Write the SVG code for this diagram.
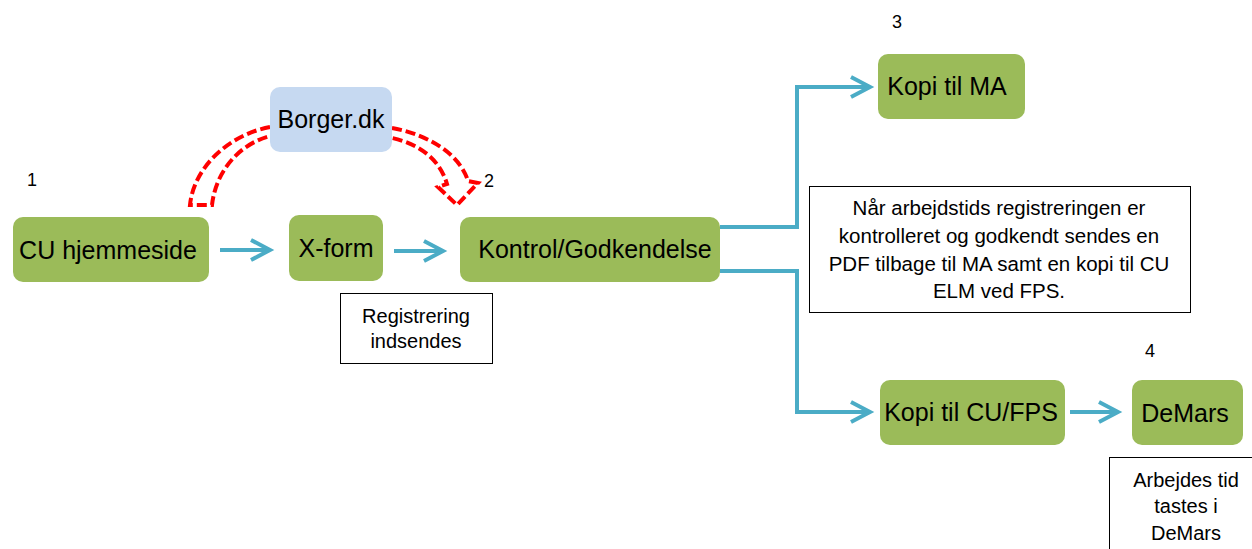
<svg xmlns="http://www.w3.org/2000/svg" width="1252" height="549" viewBox="0 0 1252 549">
<style>
text{font-family:"Liberation Sans",Arial,sans-serif;fill:#000}
.node{fill:#9bbb59}
.lbl{font-size:25px;text-anchor:middle}
.num{font-size:18px}
.note{fill:#fff;stroke:#000;stroke-width:1}
.nt{font-size:20.5px;text-anchor:middle}
.nt2{font-size:20px;text-anchor:middle}
.flow{fill:none;stroke:#4bacc6;stroke-width:4;marker-end:url(#chev)}
.dash{fill:none;stroke:#ff0000;stroke-width:4;stroke-dasharray:10 4}
</style>
<defs>
<marker id="chev" markerUnits="userSpaceOnUse" markerWidth="30" markerHeight="30" refX="0" refY="0" orient="auto" overflow="visible">
<path d="M-19,-10 L0,0 L-19,10" fill="none" stroke="#4bacc6" stroke-width="4"/>
</marker>
</defs>
<rect width="1252" height="549" fill="#fff"/>
<g id="connectors">
<path class="dash" d="M270 127 C232 134 194 165 190 205 L212 205 C216 170 240 144 270 136"/>
<path class="dash" d="M392 128 C430 135 460 155 468 181 L478 183 L457 205 L438 187 L447 184 C440 160 420 144 392 138"/>
<path class="flow" d="M220 250 L270 250"/>
<path class="flow" d="M394 251 L443 251"/>
<path class="flow" d="M720 227 L797 227 L797 87 L870 87"/>
<path class="flow" d="M720 271 L797 271 L797 412 L870 412"/>
<path class="flow" d="M1070 412 L1118 412"/>
</g>
<g id="borger">
<rect x="270" y="87" width="122" height="65" rx="10" fill="#c6d9f1"/>
<text class="lbl" x="331" y="128">Borger.dk</text>
</g>
<g id="cu">
<rect class="node" x="13" y="217" width="196" height="65" rx="10"/>
<text class="lbl" x="108" y="259">CU hjemmeside</text>
</g>
<g id="xform">
<rect class="node" x="289" y="215" width="94" height="66" rx="10"/>
<text class="lbl" x="336" y="257">X-form</text>
</g>
<g id="kontrol">
<rect class="node" x="460" y="217" width="260" height="65" rx="10"/>
<text class="lbl" x="595" y="258">Kontrol/Godkendelse</text>
</g>
<g id="kopima">
<rect class="node" x="878" y="54" width="147" height="65" rx="10"/>
<text class="lbl" x="947" y="95">Kopi til MA</text>
</g>
<g id="kopicu">
<rect class="node" x="880" y="380" width="185" height="65" rx="10"/>
<text class="lbl" x="971" y="421">Kopi til CU/FPS</text>
</g>
<g id="demars">
<rect class="node" x="1132" y="380" width="111" height="65" rx="10"/>
<text class="lbl" x="1185" y="422">DeMars</text>
</g>
<g id="note-reg">
<rect class="note" x="340.5" y="293.5" width="152" height="70"/>
<text class="nt2" x="416" y="323">Registrering</text>
<text class="nt2" x="416" y="348">indsendes</text>
</g>
<g id="note-pdf">
<rect class="note" x="809.5" y="186.5" width="381" height="126"/>
<text class="nt" x="999" y="215">Når arbejdstids registreringen er</text>
<text class="nt" x="999" y="243">kontrolleret og godkendt sendes en</text>
<text class="nt" x="999" y="271">PDF tilbage til MA samt en kopi til CU</text>
<text class="nt" x="999" y="298">ELM ved FPS.</text>
</g>
<g id="note-demars">
<rect class="note" x="1109.5" y="457.5" width="154" height="100"/>
<text class="nt2" x="1186" y="487">Arbejdes tid</text>
<text class="nt2" x="1186" y="513">tastes i</text>
<text class="nt2" x="1186" y="540">DeMars</text>
</g>
<g id="numbers">
<text class="num" x="27" y="186">1</text>
<text class="num" x="484" y="187">2</text>
<text class="num" x="892" y="28">3</text>
<text class="num" x="1145" y="357">4</text>
</g>
</svg>
